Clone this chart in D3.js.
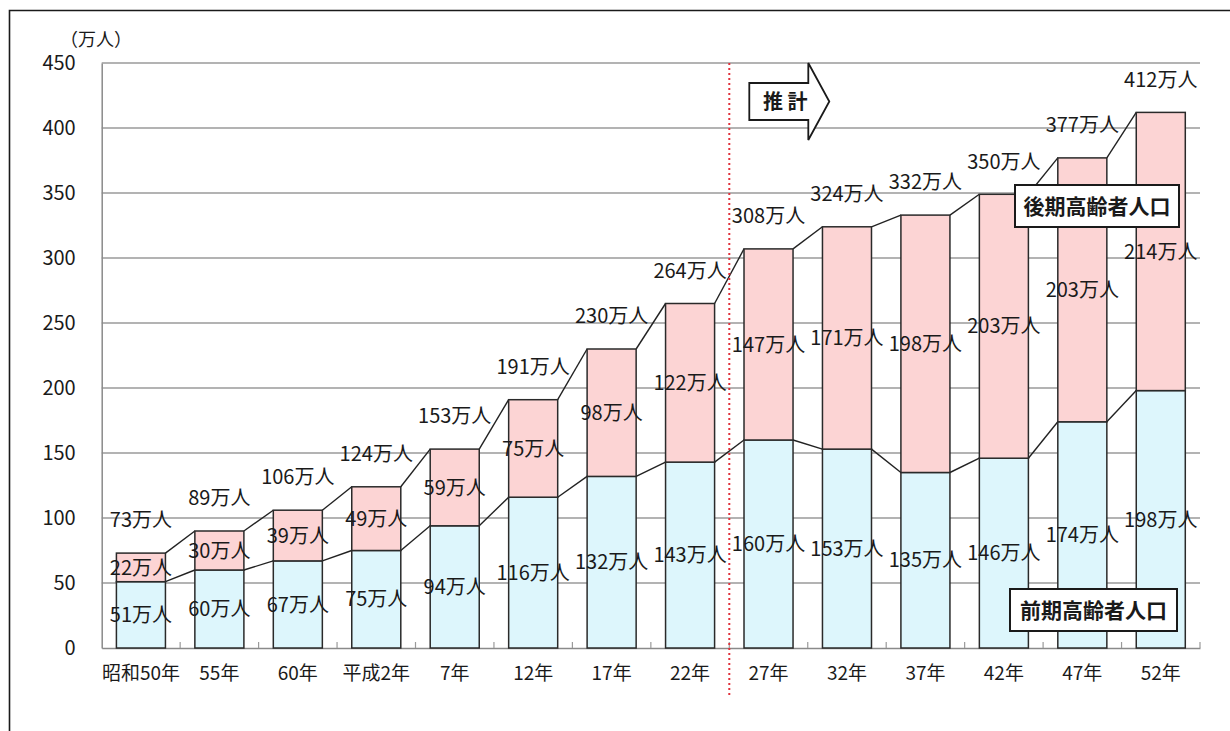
<!DOCTYPE html>
<html><head><meta charset="utf-8">
<script src="https://cdn.jsdelivr.net/npm/d3@7/dist/d3.min.js"></script>
<style>body{margin:0;background:#fff}svg{display:block}text{font-family:"Noto Sans CJK JP","Noto Sans",sans-serif}</style>
</head><body>
<svg id="chart" width="1230" height="731"></svg>
<script>
const categories = ["昭和50年","55年","60年","平成2年","7年","12年","17年","22年","27年","32年","37年","42年","47年","52年"];
const earlyElderly = [51,60,67,75,94,116,132,143,160,153,135,146,174,198];
const lateElderly  = [22,30,39,49,59,75,98,122,147,171,198,203,203,214];
const totals       = [73,89,106,124,153,191,230,264,308,324,332,350,377,412];
const yTicks = [0,50,100,150,200,250,300,350,400,450];
const unit = "万人";
const projectionStart = "27年";

const svg = d3.select("#chart");
const W = 1230, H = 731;
const pLeft = 101.7, pRight = 1200, pTop = 63, pBottom = 648;

// frame
svg.append("path").attr("d", `M9.5,${H+5} V10.5 H${W+5}`).attr("fill","none").attr("stroke","#1a1a1a").attr("stroke-width",1.6);

const x = d3.scaleBand().domain(categories).range([pLeft, pRight]).paddingInner(0.375).paddingOuter(0.1875);
const y = d3.scaleLinear().domain([0,450]).range([pBottom, pTop]);
const step = x.step(), bw = x.bandwidth();

// gridlines
svg.append("g").selectAll("line").data(yTicks.filter(d=>d>0)).join("line")
  .attr("x1", pLeft).attr("x2", pRight).attr("y1", d=>y(d)).attr("y2", d=>y(d))
  .attr("stroke","#9a9a9a").attr("stroke-width",1.5);

// y axis
const yAxis = svg.append("g").attr("transform",`translate(${pLeft},0)`)
  .call(d3.axisLeft(y).tickValues(yTicks).tickSize(0).tickPadding(26));
yAxis.select(".domain").attr("stroke","#8a8a8a").attr("stroke-width",1.5);
yAxis.selectAll("text").attr("font-size",20).attr("fill","#1a1a1a");

// x axis
const xAxis = svg.append("g").attr("transform",`translate(0,${pBottom})`)
  .call(d3.axisBottom(x).tickSize(0).tickPadding(19));
xAxis.select(".domain").attr("stroke","#8a8a8a").attr("stroke-width",1.5);
xAxis.selectAll("text").attr("font-size",19).attr("fill","#1a1a1a");
// small tick marks at category boundaries
svg.append("g").selectAll("line").data(d3.range(1, categories.length+1)).join("line")
  .attr("x1", i=>pLeft + i*step).attr("x2", i=>pLeft + i*step)
  .attr("y1", pBottom).attr("y2", pBottom-6).attr("stroke","#9a9a9a").attr("stroke-width",1.2);

// stacked data
const rows = categories.map((c,i)=>({cat:c, early:earlyElderly[i], late:lateElderly[i], total:totals[i]}));
const stack = d3.stack().keys(["early","late"])(rows);
const fills = {early:"#ddf6fc", late:"#fcd4d4"};

// connectors (series lines)
const lineGen = d3.line();
["early","late"].forEach((k,ki)=>{
  const s = stack[ki];
  for(let i=0;i<s.length-1;i++){
    const p0 = [x(categories[i])+bw, y(s[i][1])];
    const p1 = [x(categories[i+1]), y(s[i+1][1])];
    svg.append("path").attr("d", lineGen([p0,p1])).attr("fill","none").attr("stroke","#222").attr("stroke-width",1.4);
  }
});

// bars
stack.forEach(s=>{
  svg.append("g").selectAll("rect").data(s).join("rect")
    .attr("x", d=>x(d.data.cat)).attr("width", bw)
    .attr("y", d=>y(d[1])).attr("height", d=>y(d[0])-y(d[1]))
    .attr("fill", fills[s.key]).attr("stroke","#2a2a2a").attr("stroke-width",1.5);
});

// projection divider
const divX = x(projectionStart) - (step-bw)/2;
svg.append("line").attr("x1",divX).attr("x2",divX).attr("y1",pTop).attr("y2",698)
  .attr("stroke","#e0303a").attr("stroke-width",2).attr("stroke-dasharray","2,3");

// labels
const lbl = svg.append("g").attr("font-size",20).attr("fill","#1a1a1a").attr("text-anchor","middle");
stack.forEach(s=>{
  lbl.append("g").selectAll("text").data(s).join("text")
    .attr("x", d=>x(d.data.cat)+bw/2).attr("y", d=>y((d[0]+d[1])/2)).attr("dy","0.36em")
    .text(d=>d.data[s.key]+unit);
});
lbl.append("g").selectAll("text").data(rows).join("text")
  .attr("x", d=>x(d.cat)+bw/2).attr("y", d=>y(d.early+d.late)-33).attr("dy","0.36em")
  .text(d=>d.total+unit);

// unit label
svg.append("text").attr("x",60).attr("y",46).attr("font-size",18).attr("fill","#1a1a1a").text("（万人）");

// projection arrow
const ax = divX + 20;
svg.append("path").attr("d",`M${ax},83 H${ax+59} V63 L${ax+80},101.5 L${ax+59},140 V120 H${ax} Z`)
  .attr("fill","#fff").attr("stroke","#1a1a1a").attr("stroke-width",1.8).attr("stroke-linejoin","miter");
svg.append("text").attr("x",ax+36).attr("y",102).attr("dy","0.36em").attr("text-anchor","middle")
  .attr("font-size",20).attr("font-weight","bold").attr("fill","#1a1a1a").attr("xml:space","preserve").text("推 計");

// legend boxes
function legendBox(x0,y0,w,h,t){
  svg.append("rect").attr("x",x0).attr("y",y0).attr("width",w).attr("height",h)
    .attr("fill","#fff").attr("stroke","#1a1a1a").attr("stroke-width",2);
  svg.append("text").attr("x",x0+w/2).attr("y",y0+h/2).attr("dy","0.36em").attr("text-anchor","middle")
    .attr("font-size",21).attr("font-weight","bold").attr("fill","#1a1a1a").text(t);
}
legendBox(1015,185,164,42,"後期高齢者人口");
legendBox(1010,589,167,42,"前期高齢者人口");
</script>
</body></html>
